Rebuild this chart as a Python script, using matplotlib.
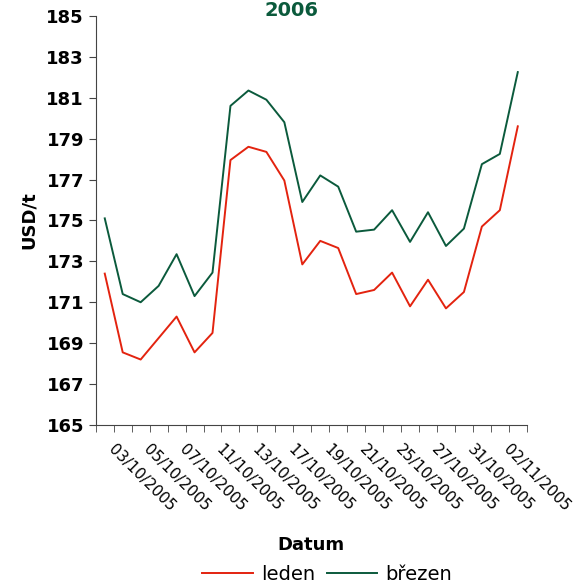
import matplotlib.pyplot as plt
from matplotlib.transforms import ScaledTranslation

# data
dates = ['30/09/2005', '03/10/2005', '04/10/2005', '05/10/2005', '06/10/2005', '07/10/2005',
         '10/10/2005', '11/10/2005', '12/10/2005', '13/10/2005', '14/10/2005', '17/10/2005',
         '18/10/2005', '19/10/2005', '20/10/2005', '21/10/2005', '24/10/2005', '25/10/2005',
         '26/10/2005', '27/10/2005', '28/10/2005', '31/10/2005', '01/11/2005', '02/11/2005']
leden = [172.4, 168.55, 168.2, 169.25, 170.3, 168.55, 169.5, 177.95, 178.6, 178.35, 176.95, 172.85,
         174.0, 173.65, 171.4, 171.6, 172.45, 170.8, 172.1, 170.7, 171.5, 174.7, 175.5, 179.6]
brezen = [175.1, 171.4, 171.0, 171.8, 173.35, 171.3, 172.45, 180.6, 181.35, 180.9, 179.8, 175.9,
          177.2, 176.65, 174.45, 174.55, 175.5, 173.95, 175.4, 173.75, 174.6, 177.75, 178.25, 182.25]

fig = plt.figure(figsize=(5.84, 5.87), dpi=100)
ax = fig.add_axes([0.164, 0.276, 0.738, 0.697])

x = list(range(len(dates)))
ax.plot(x, leden, color='#e3230f', lw=1.4, label='leden')
ax.plot(x, brezen, color='#0b5a3c', lw=1.4, label='březen')

ax.set_ylim(165, 185)
ax.set_yticks(range(165, 186, 2))
ax.set_xlim(-0.5, len(dates) - 0.5)

# labels on every other day, tick marks between categories
ax.set_xticks(x[1::2])
ax.set_xticklabels(dates[1::2], rotation=-45, ha='left', va='top',
                   rotation_mode='anchor', fontsize=11)
ax.set_xticks([i - 0.5 for i in range(len(dates) + 1)], minor=True)
ax.tick_params(axis='x', which='major', length=0, pad=12)
ax.tick_params(axis='x', which='minor', length=5, color='#444444')
ax.tick_params(axis='y', length=5, color='#444444', labelsize=13)
for lab in ax.get_yticklabels():
    lab.set_fontweight('bold')
shift = ScaledTranslation(-5 / 72, 0, fig.dpi_scale_trans)
for lab in ax.get_xticklabels():
    lab.set_transform(lab.get_transform() + shift)

for s in ['top', 'right']:
    ax.spines[s].set_visible(False)
ax.spines['left'].set_color('#444444')
ax.spines['bottom'].set_color('#444444')

ax.set_ylabel('USD/t', fontsize=13, fontweight='bold', labelpad=6)
ax.set_xlabel('Datum', fontsize=13, fontweight='bold', labelpad=16)
fig.text(0.5, 0.982, '2006', ha='center', va='center', fontsize=14,
         fontweight='bold', color='#0b5a3c')

fig.legend(loc='lower center', bbox_to_anchor=(0.56, -0.025), ncol=2, frameon=False,
           fontsize=14, handlelength=2.6, columnspacing=0.6, handletextpad=0.4)

plt.savefig('out.png', dpi=100)
